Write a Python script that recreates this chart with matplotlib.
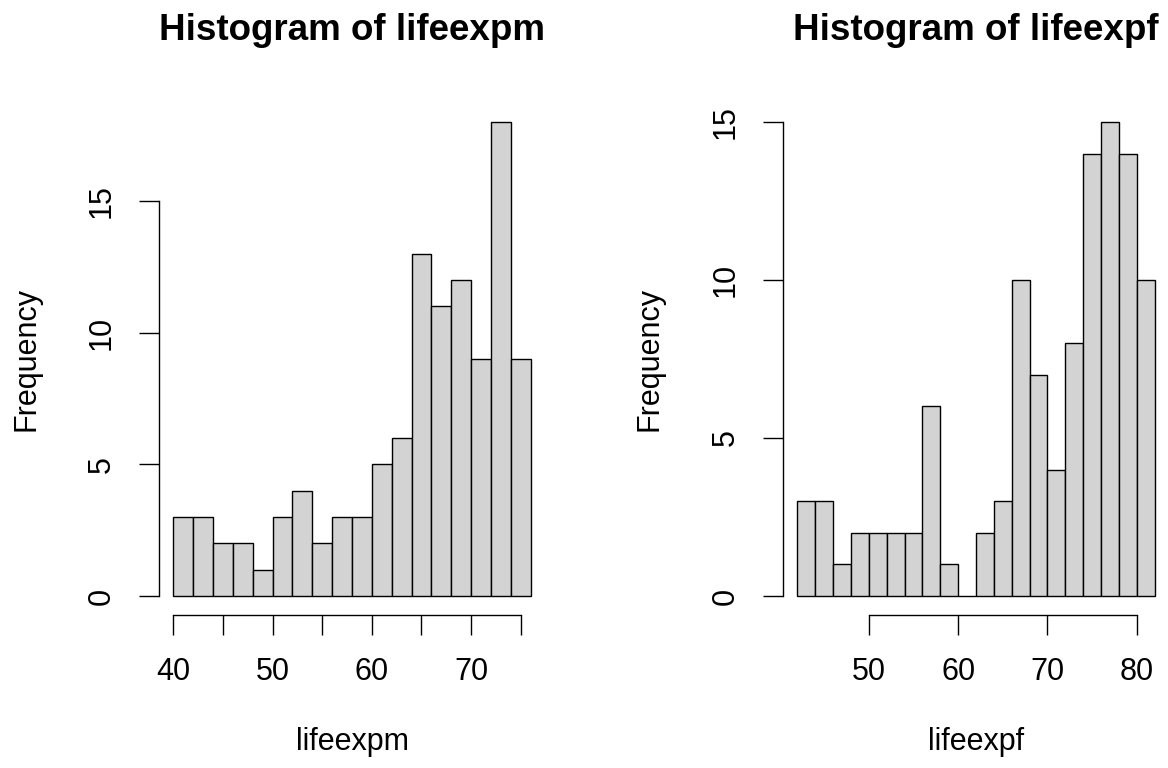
import matplotlib
matplotlib.use("Agg")
import matplotlib.pyplot as plt

plt.rcParams['font.family'] = ['Liberation Sans', 'DejaVu Sans']

# histogram counts (bin width 2)
m_edges = [40, 42, 44, 46, 48, 50, 52, 54, 56, 58, 60, 62, 64, 66, 68, 70, 72, 74, 76]
m_counts = [3, 3, 2, 2, 1, 3, 4, 2, 3, 3, 5, 6, 13, 11, 12, 9, 18, 9]
f_edges = [42, 44, 46, 48, 50, 52, 54, 56, 58, 60, 62, 64, 66, 68, 70, 72, 74, 76, 78, 80, 82]
f_counts = [3, 3, 1, 2, 2, 2, 2, 6, 1, 0, 2, 3, 10, 7, 4, 8, 14, 15, 14, 10]

m_xticks = [40, 45, 50, 55, 60, 65, 70, 75]
m_xlabels = ['40', '', '50', '', '60', '', '70', '']
f_xticks = [50, 60, 70, 80]
f_xlabels = ['50', '60', '70', '80']
yticks = [0, 5, 10, 15]

W, H = 1168, 768
fig = plt.figure(figsize=(W / 100, H / 100), dpi=100)


def px_axes(x0, x1, y0, y1):
    # pixel box (top-left origin) -> figure fraction
    return fig.add_axes([x0 / W, 1 - y1 / H, (x1 - x0) / W, (y1 - y0) / H])


def r_hist(ax, edges, counts, xticks, xlabels, name, title_x, ylab_x):
    ax.bar(edges[:-1], counts, width=2, align='edge', color='#D3D3D3',
           edgecolor='black', linewidth=1.0)
    lo, hi = edges[0], edges[-1]
    pad = (hi - lo) * 0.04
    ax.set_xlim(lo - pad, hi + pad)
    top = max(counts)
    ax.set_ylim(-top * 0.04, top * 1.04)
    for s in ['top', 'right']:
        ax.spines[s].set_visible(False)
    ax.spines['bottom'].set_bounds(xticks[0], xticks[-1])
    ax.spines['left'].set_bounds(yticks[0], yticks[-1])
    for s in ['bottom', 'left']:
        ax.spines[s].set_linewidth(1.0)
    ax.set_xticks(xticks)
    ax.set_xticklabels(xlabels)
    ax.set_yticks(yticks)
    ax.set_yticklabels([str(v) for v in yticks], rotation=90, va='center')
    ax.tick_params(direction='out', length=14.4, width=1.0, labelsize=22, pad=16)
    ax.patch.set_visible(False)
    fig.text(title_x / W, 1 - 40 / H, 'Histogram of ' + name, ha='center',
             va='baseline', fontsize=26.5, fontweight='bold')
    fig.text(title_x / W, 1 - 742 / H, name, ha='center', va='center', fontsize=22)
    fig.text(ylab_x / W, 0.5 * (1 - 103 / H + 1 - 615 / H), 'Frequency',
             rotation=90, ha='center', va='center', fontsize=22)


ax1 = px_axes(159, 545, 103, 615)
r_hist(ax1, m_edges, m_counts, m_xticks, m_xlabels, 'lifeexpm', 352, 27)

ax2 = px_axes(783, 1169, 103, 615)
r_hist(ax2, f_edges, f_counts, f_xticks, f_xlabels, 'lifeexpf', 976, 650)

fig.savefig("out.png", dpi=100)
